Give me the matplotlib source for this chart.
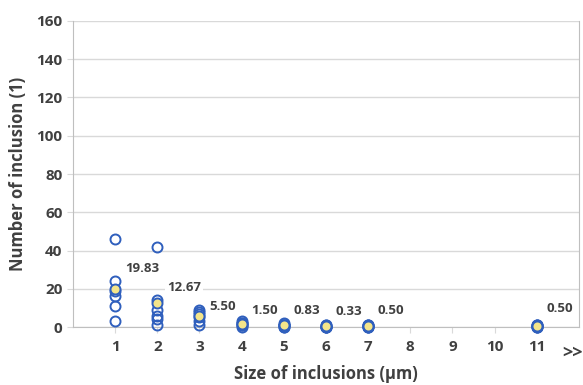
import matplotlib

matplotlib.use("Agg")
import matplotlib.pyplot as plt
import numpy as np

# Size classes (µm) and counts of inclusions found in each of six samples
sizes = [1, 2, 3, 4, 5, 6, 7, 11]
counts = [
    [46, 24, 19, 16, 11, 3],
    [42, 14, 9, 6, 4, 1],
    [9, 8, 7, 5, 3, 1],
    [3, 2, 2, 1, 1, 0],
    [2, 1, 1, 1, 0, 0],
    [1, 1, 0, 0, 0, 0],
    [1, 1, 1, 0, 0, 0],
    [1, 1, 1, 0, 0, 0],
]
means = [19.83, 12.67, 5.50, 1.50, 0.83, 0.33, 0.50, 0.50]
x_ticks = list(range(1, 12))
y_ticks = list(range(0, 161, 20))

# vertical label offsets in points relative to the mean marker
label_dy = [15, 11, 7, 10, 11, 11, 11, 13]

text_color = "#404040"
edge_blue = "#2f5fbd"
mean_fill = "#f4e58a"
grid_color = "#d9d9d9"

plt.rcParams["font.family"] = ["Open Sans", "DejaVu Sans"]

fig = plt.figure(figsize=(5.83, 3.85), dpi=100)
ax = fig.add_axes([0.1252, 0.1506, 0.8678, 0.7949])

for s, vals in zip(sizes, counts):
    ax.plot(
        np.full(len(vals), s),
        vals,
        linestyle="none",
        marker="o",
        markersize=7.2,
        markerfacecolor="none",
        markeredgecolor=edge_blue,
        markeredgewidth=1.4,
        clip_on=False,
        zorder=4,
    )

ax.plot(
    sizes,
    means,
    linestyle="none",
    marker="o",
    markersize=7.2,
    markerfacecolor=mean_fill,
    markeredgecolor=edge_blue,
    markeredgewidth=1.4,
    clip_on=False,
    zorder=5,
)

for s, m, dy in zip(sizes, means, label_dy):
    ax.annotate(
        f"{m:.2f}",
        (s, m),
        xytext=(7, dy),
        textcoords="offset points",
        ha="left",
        va="center",
        fontsize=9.5,
        fontweight="bold",
        color=text_color,
        bbox=dict(boxstyle="square,pad=0.15", facecolor="white", edgecolor="none"),
        zorder=6,
    )

ax.set_xlim(0, 12)
ax.set_ylim(0, 160)
ax.set_xticks(x_ticks)
ax.set_yticks(y_ticks)
ax.tick_params(axis="both", colors=grid_color, labelcolor=text_color, labelsize=11, length=4)
ax.tick_params(axis="x", pad=5)
for lbl in ax.get_xticklabels() + ax.get_yticklabels():
    lbl.set_fontweight("bold")

ax.text(11.85, -0.083, ">>", transform=ax.get_xaxis_transform(), ha="center", va="center",
        fontsize=13, fontweight="bold", color=text_color)

ax.grid(axis="y", color=grid_color, linewidth=1)
ax.set_axisbelow(True)
for side in ["left", "bottom", "right"]:
    ax.spines[side].set_color("#bfbfbf")
ax.spines["top"].set_visible(False)

ax.set_xlabel("Size of inclusions (µm)", fontsize=12, fontweight="bold", color=text_color, labelpad=8)
ax.set_ylabel("Number of inclusion (1)", fontsize=12, fontweight="bold", color=text_color, labelpad=7)

fig.savefig("out.png", dpi=100)
